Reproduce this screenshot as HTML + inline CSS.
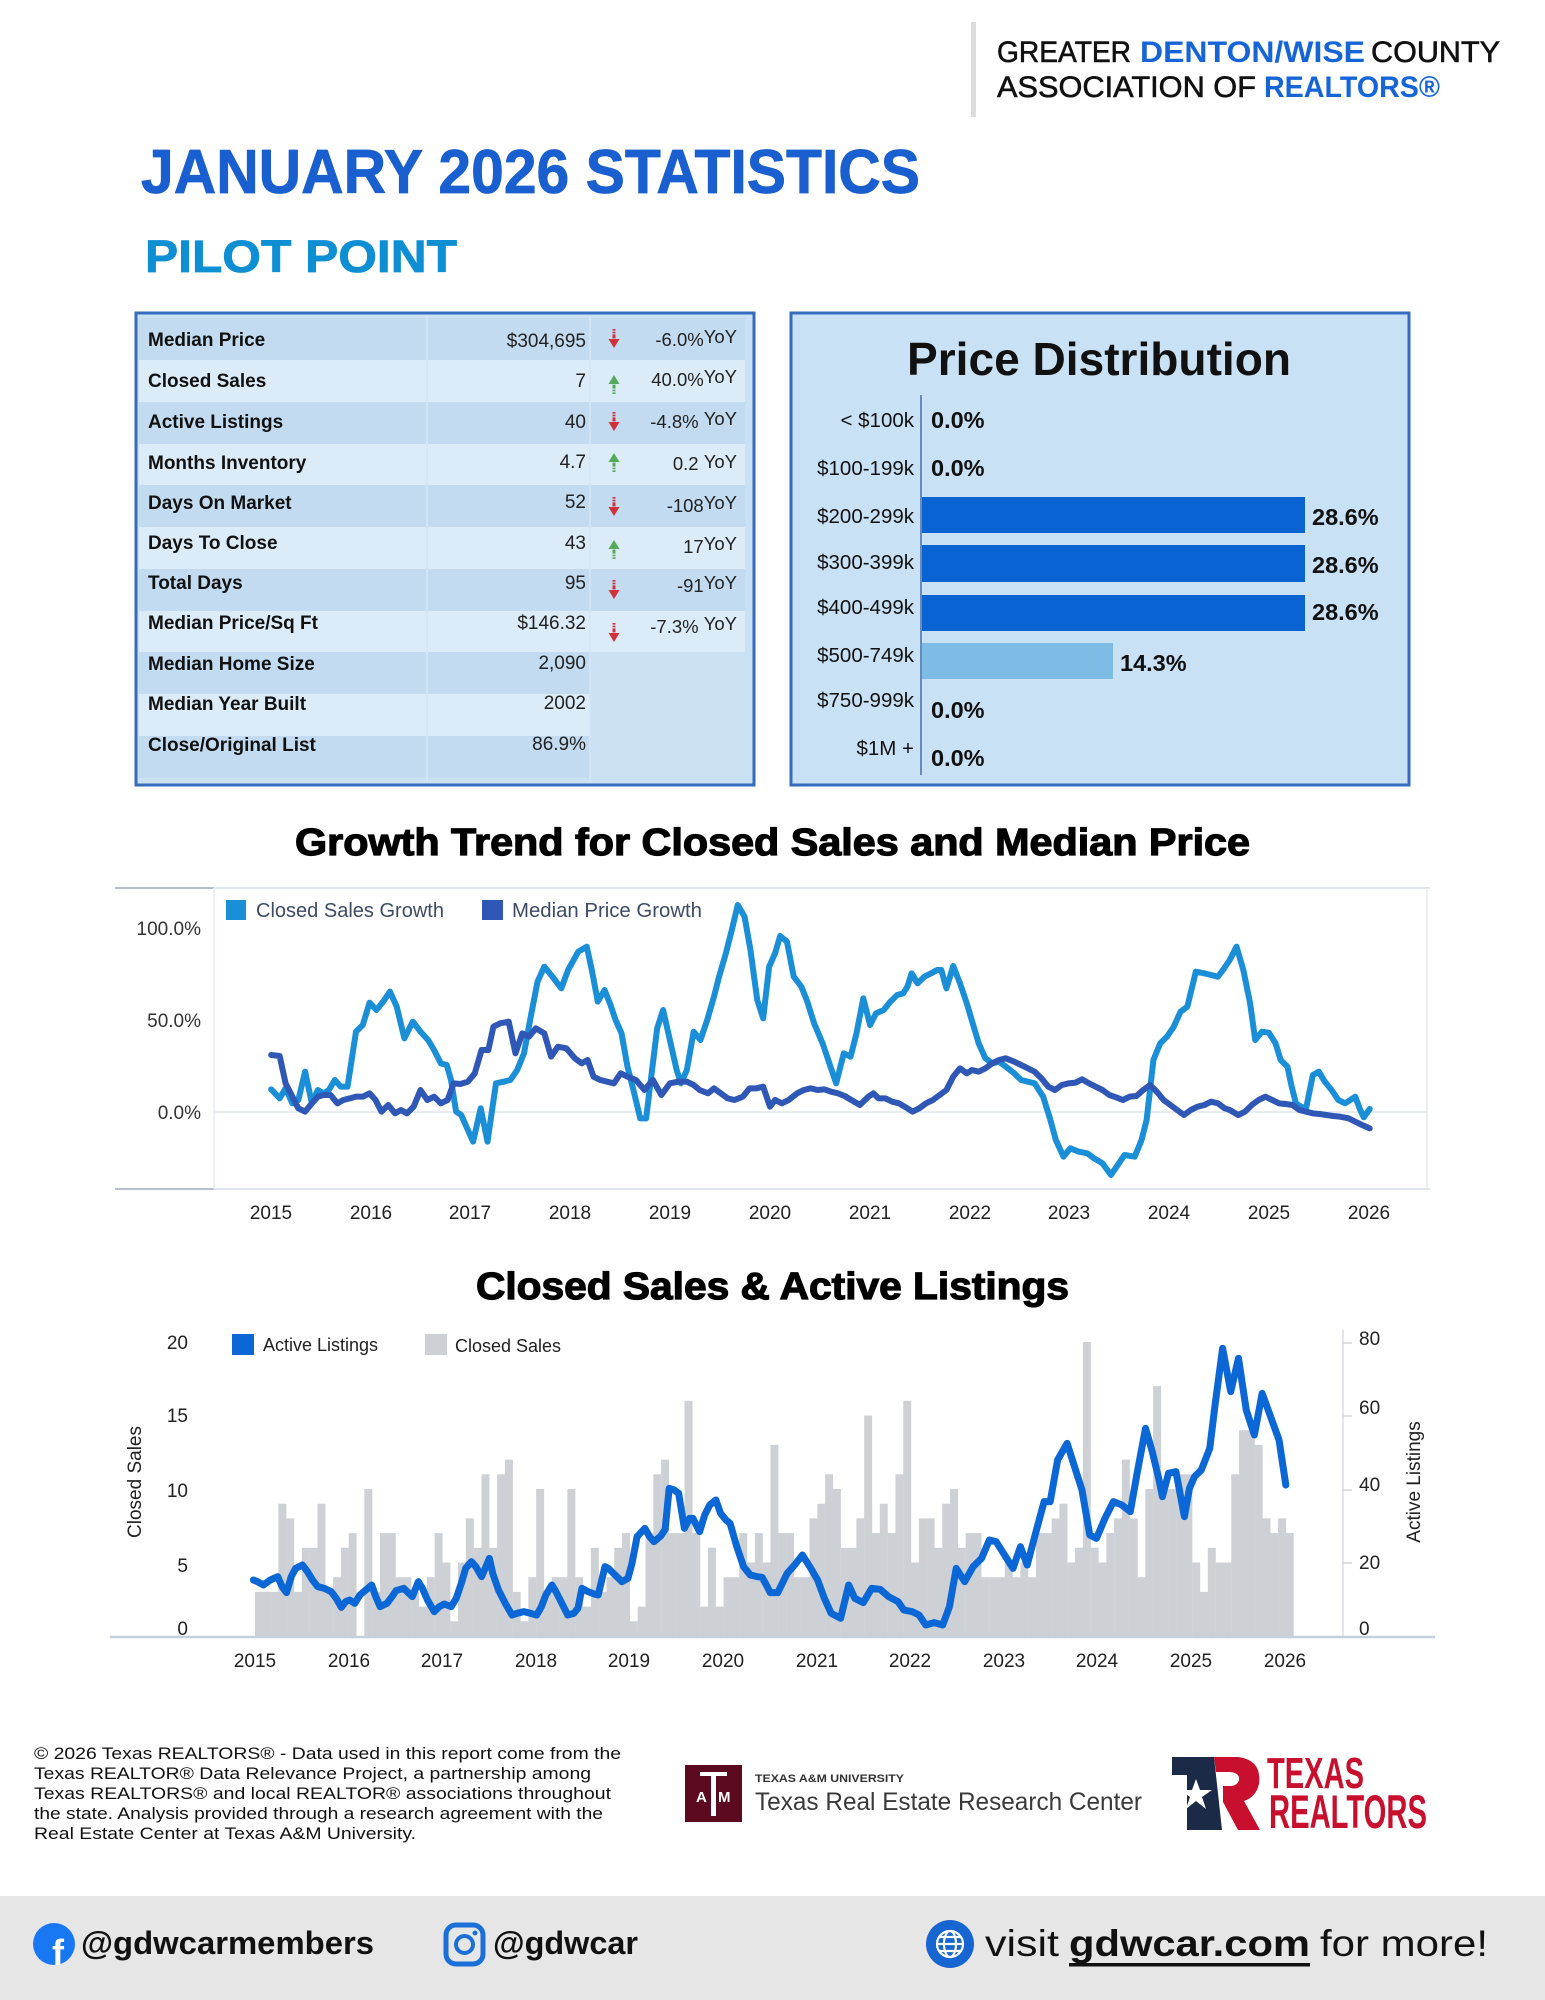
<!DOCTYPE html>
<html><head><meta charset="utf-8"><style>
html,body{margin:0;padding:0;background:#fff;}
svg{display:block;}
text{font-family:"Liberation Sans",Arial,sans-serif;}
</style></head><body>
<svg width="1545" height="2000" viewBox="0 0 1545 2000" xmlns="http://www.w3.org/2000/svg">
<rect x="0" y="0" width="1545" height="2000" fill="#fff"/>

<!-- Header logo -->
<rect x="971" y="22" width="5" height="95" fill="#dcdcdc"/>
<text x="997" y="62" font-size="30" fill="#111" stroke="#111" stroke-width="0.6" textLength="134" lengthAdjust="spacingAndGlyphs">GREATER</text>
<text x="1140" y="62" font-size="30" font-weight="bold" fill="#1565d8" textLength="225" lengthAdjust="spacingAndGlyphs">DENTON/WISE</text>
<text x="1371" y="62" font-size="30" fill="#111" stroke="#111" stroke-width="0.6" textLength="129" lengthAdjust="spacingAndGlyphs">COUNTY</text>
<text x="997" y="97" font-size="30" fill="#111" stroke="#111" stroke-width="0.6" textLength="259" lengthAdjust="spacingAndGlyphs">ASSOCIATION OF</text>
<text x="1264" y="97" font-size="30" font-weight="bold" fill="#1565d8" textLength="176" lengthAdjust="spacingAndGlyphs">REALTORS®</text>

<!-- Titles -->
<text x="141" y="193" font-size="62" font-weight="bold" fill="#1a5fcf" stroke="#1a5fcf" stroke-width="0.8" textLength="779" lengthAdjust="spacingAndGlyphs">JANUARY 2026 STATISTICS</text>
<text x="145" y="272" font-size="45" font-weight="bold" fill="#0e8fd4" stroke="#0e8fd4" stroke-width="0.8" textLength="312" lengthAdjust="spacingAndGlyphs">PILOT POINT</text>

<!-- Stats table panel -->
<rect x="136" y="313" width="618" height="472" fill="#cae0f3" stroke="#356cbf" stroke-width="3"/>
<g>
<rect x="139" y="318" width="606" height="42" fill="#c2dbf0"/>
<rect x="139" y="360" width="606" height="42" fill="#dbebf8"/>
<rect x="139" y="402" width="606" height="42" fill="#c2dbf0"/>
<rect x="139" y="444" width="606" height="41" fill="#dbebf8"/>
<rect x="139" y="485" width="606" height="42" fill="#c2dbf0"/>
<rect x="139" y="527" width="606" height="42" fill="#dbebf8"/>
<rect x="139" y="569" width="606" height="42" fill="#c2dbf0"/>
<rect x="139" y="611" width="606" height="41" fill="#dbebf8"/>
<rect x="139" y="652" width="451" height="42" fill="#c2dbf0"/>
<rect x="139" y="694" width="451" height="42" fill="#dbebf8"/>
<rect x="139" y="736" width="451" height="42" fill="#c2dbf0"/>
</g>
<rect x="426" y="316" width="2" height="466" fill="#d3e6f6" opacity="0.8"/>
<rect x="589" y="316" width="2" height="466" fill="#d3e6f6" opacity="0.8"/>

<g font-size="19" font-weight="bold" fill="#111">
<text x="148" y="346">Median Price</text>
<text x="148" y="387">Closed Sales</text>
<text x="148" y="428">Active Listings</text>
<text x="148" y="469">Months Inventory</text>
<text x="148" y="509">Days On Market</text>
<text x="148" y="549">Days To Close</text>
<text x="148" y="589">Total Days</text>
<text x="148" y="629">Median Price/Sq Ft</text>
<text x="148" y="670">Median Home Size</text>
<text x="148" y="710">Median Year Built</text>
<text x="148" y="751">Close/Original List</text>
</g>
<g font-size="19" fill="#222" text-anchor="end">
<text x="586" y="347">$304,695</text>
<text x="586" y="387">7</text>
<text x="586" y="428">40</text>
<text x="586" y="468">4.7</text>
<text x="586" y="508">52</text>
<text x="586" y="549">43</text>
<text x="586" y="589">95</text>
<text x="586" y="629">$146.32</text>
<text x="586" y="669">2,090</text>
<text x="586" y="709">2002</text>
<text x="586" y="750">86.9%</text>
</g>
<g font-size="18.5" fill="#222" text-anchor="end">
<text x="737" y="346">-6.0%<tspan dy="-3">YoY</tspan></text>
<text x="737" y="386">40.0%<tspan dy="-3">YoY</tspan></text>
<text x="737" y="428">-4.8%&#160;<tspan dy="-3">YoY</tspan></text>
<text x="737" y="470">0.2&#160;<tspan dy="-2">YoY</tspan></text>
<text x="737" y="512">-108<tspan dy="-3">YoY</tspan></text>
<text x="737" y="553">17<tspan dy="-3">YoY</tspan></text>
<text x="737" y="592">-91<tspan dy="-3">YoY</tspan></text>
<text x="737" y="633">-7.3%&#160;<tspan dy="-3">YoY</tspan></text>
</g>
<!-- arrows -->
<g fill="#d2303b">
<g transform="translate(614 339)"><rect x="-1.5" y="-10" width="3" height="1.6"/><rect x="-1.5" y="-7.3" width="3" height="1.6"/><rect x="-1.5" y="-4.6" width="3" height="4"/><polygon points="-5.5,0 5.5,0 0,9"/></g>
<g transform="translate(614 422)"><rect x="-1.5" y="-10" width="3" height="1.6"/><rect x="-1.5" y="-7.3" width="3" height="1.6"/><rect x="-1.5" y="-4.6" width="3" height="4"/><polygon points="-5.5,0 5.5,0 0,9"/></g>
<g transform="translate(614 507)"><rect x="-1.5" y="-10" width="3" height="1.6"/><rect x="-1.5" y="-7.3" width="3" height="1.6"/><rect x="-1.5" y="-4.6" width="3" height="4"/><polygon points="-5.5,0 5.5,0 0,9"/></g>
<g transform="translate(614 590)"><rect x="-1.5" y="-10" width="3" height="1.6"/><rect x="-1.5" y="-7.3" width="3" height="1.6"/><rect x="-1.5" y="-4.6" width="3" height="4"/><polygon points="-5.5,0 5.5,0 0,9"/></g>
<g transform="translate(614 633)"><rect x="-1.5" y="-10" width="3" height="1.6"/><rect x="-1.5" y="-7.3" width="3" height="1.6"/><rect x="-1.5" y="-4.6" width="3" height="4"/><polygon points="-5.5,0 5.5,0 0,9"/></g>
</g>
<g fill="#55a95b">
<g transform="translate(614 384)"><rect x="-1.5" y="8.4" width="3" height="1.6"/><rect x="-1.5" y="5.7" width="3" height="1.6"/><rect x="-1.5" y="0.6" width="3" height="4"/><polygon points="-5.5,0 5.5,0 0,-9"/></g>
<g transform="translate(614 462)"><rect x="-1.5" y="8.4" width="3" height="1.6"/><rect x="-1.5" y="5.7" width="3" height="1.6"/><rect x="-1.5" y="0.6" width="3" height="4"/><polygon points="-5.5,0 5.5,0 0,-9"/></g>
<g transform="translate(614 549)"><rect x="-1.5" y="8.4" width="3" height="1.6"/><rect x="-1.5" y="5.7" width="3" height="1.6"/><rect x="-1.5" y="0.6" width="3" height="4"/><polygon points="-5.5,0 5.5,0 0,-9"/></g>
</g>

<!-- Price distribution panel -->
<rect x="791" y="313" width="618" height="472" fill="#c9e1f4" stroke="#356cbf" stroke-width="3"/>
<text x="907" y="375" font-size="46" font-weight="bold" fill="#111" textLength="384" lengthAdjust="spacingAndGlyphs">Price Distribution</text>
<line x1="921" y1="395" x2="921" y2="775" stroke="#4a6ea8" stroke-width="1.5"/>
<rect x="922" y="497" width="383" height="36" fill="#0a63d3"/>
<rect x="922" y="545" width="383" height="37" fill="#0a63d3"/>
<rect x="922" y="595" width="383" height="36" fill="#0a63d3"/>
<rect x="922" y="643" width="191" height="36" fill="#7dbce4"/>
<g font-size="20.5" fill="#111" text-anchor="end">
<text x="914" y="427">&lt; $100k</text>
<text x="914" y="475">$100-199k</text>
<text x="914" y="523">$200-299k</text>
<text x="914" y="569">$300-399k</text>
<text x="914" y="614">$400-499k</text>
<text x="914" y="662">$500-749k</text>
<text x="914" y="707">$750-999k</text>
<text x="914" y="755">$1M +</text>
</g>
<g font-size="23.5" font-weight="bold" fill="#111">
<text x="931" y="428">0.0%</text>
<text x="931" y="476">0.0%</text>
<text x="1312" y="525">28.6%</text>
<text x="1312" y="573">28.6%</text>
<text x="1312" y="620">28.6%</text>
<text x="1120" y="671">14.3%</text>
<text x="931" y="718">0.0%</text>
<text x="931" y="766">0.0%</text>
</g>

<!-- Growth chart -->
<text x="295" y="855" font-size="38" font-weight="bold" fill="#000" stroke="#000" stroke-width="1.2" textLength="955" lengthAdjust="spacingAndGlyphs">Growth Trend for Closed Sales and Median Price</text>
<line x1="115" y1="888" x2="1430" y2="888" stroke="#e1e6ed" stroke-width="2"/>
<line x1="115" y1="888" x2="214" y2="888" stroke="#b8bfc9" stroke-width="2"/>
<line x1="115" y1="1189" x2="1430" y2="1189" stroke="#dfe4ea" stroke-width="2"/>
<line x1="115" y1="1189" x2="214" y2="1189" stroke="#b8bfc9" stroke-width="2"/>
<line x1="214" y1="888" x2="214" y2="1189" stroke="#e6eaf0" stroke-width="1.5"/>
<line x1="1427" y1="888" x2="1427" y2="1189" stroke="#e6eaf0" stroke-width="1.5"/>
<line x1="214" y1="1112" x2="1427" y2="1112" stroke="#e8edf2" stroke-width="2"/>
<g font-size="19" fill="#333" text-anchor="end">
<text x="201" y="935">100.0%</text>
<text x="201" y="1027">50.0%</text>
<text x="201" y="1119">0.0%</text>
</g>
<g font-size="19" fill="#222" text-anchor="middle">
<text x="271" y="1219">2015</text>
<text x="371" y="1219">2016</text>
<text x="470" y="1219">2017</text>
<text x="570" y="1219">2018</text>
<text x="670" y="1219">2019</text>
<text x="770" y="1219">2020</text>
<text x="870" y="1219">2021</text>
<text x="970" y="1219">2022</text>
<text x="1069" y="1219">2023</text>
<text x="1169" y="1219">2024</text>
<text x="1269" y="1219">2025</text>
<text x="1369" y="1219">2026</text>
</g>
<rect x="226" y="900" width="20" height="20" fill="#1a8fd8"/>
<text x="256" y="917" font-size="20" fill="#3d4b66" textLength="188" lengthAdjust="spacingAndGlyphs">Closed Sales Growth</text>
<rect x="482" y="900" width="21" height="20" fill="#2f57b6"/>
<text x="512" y="917" font-size="20" fill="#3d4b66" textLength="190" lengthAdjust="spacingAndGlyphs">Median Price Growth</text>
<g transform="translate(110 810) scale(0.8483 0.33333)" fill="none" stroke-linejoin="round" stroke-linecap="round">
<polyline vector-effect="non-scaling-stroke" stroke="#1a8fd8" stroke-width="6" points="190,838 200,865 207,835 215,880 222,870 230,785 238,880 245,840 252,850 258,840 265,810 272,830 280,830 290,665 298,645 306,578 314,600 322,575 330,545 338,590 347,685 357,635 366,665 375,690 382,720 390,760 397,765 402,810 408,905 414,915 428,995 437,895 445,995 455,820 464,815 472,810 480,780 488,730 496,620 504,515 512,470 520,495 532,535 540,480 552,425 562,410 568,480 575,575 583,540 590,585 596,630 603,670 610,770 618,850 625,925 632,925 639,780 645,655 652,600 660,690 668,780 673,820 680,780 688,665 696,690 704,630 712,560 718,500 726,430 733,360 740,285 748,320 755,420 763,570 770,625 777,470 784,430 790,378 798,395 806,500 815,530 822,575 830,640 840,700 848,760 856,820 865,730 873,740 880,670 888,565 896,645 903,610 912,600 920,575 928,555 935,550 940,530 945,490 952,520 960,500 968,490 975,480 980,480 986,535 994,468 1002,520 1010,580 1017,640 1024,700 1032,745 1040,760 1048,755 1056,770 1066,790 1074,810 1082,815 1090,820 1100,860 1108,925 1115,990 1124,1040 1132,1015 1142,1025 1152,1030 1160,1045 1170,1060 1180,1095 1188,1065 1196,1035 1208,1040 1216,990 1222,930 1230,750 1238,700 1246,680 1254,650 1262,605 1270,590 1280,485 1290,490 1298,495 1306,500 1312,480 1320,450 1328,410 1336,480 1344,580 1350,690 1358,665 1366,668 1374,700 1380,750 1388,770 1393,830 1398,880 1404,890 1410,895 1418,795 1425,785 1432,815 1440,840 1448,870 1456,880 1462,870 1468,860 1473,895 1478,922 1485,897"/>
<polyline vector-effect="non-scaling-stroke" stroke="#2f57b6" stroke-width="6" points="190,735 200,738 207,820 215,860 222,895 230,905 238,880 245,860 252,855 260,855 268,880 275,870 283,865 290,860 298,860 306,850 313,870 320,905 328,885 336,910 343,900 350,910 358,890 366,840 374,870 382,860 390,880 398,870 405,820 413,822 422,815 430,790 438,720 446,720 452,650 460,640 470,635 478,730 486,670 494,680 502,655 512,670 520,740 528,710 538,715 548,745 556,760 563,750 570,800 578,810 586,815 594,820 602,790 610,800 620,810 630,840 640,810 650,855 660,820 670,815 680,815 688,825 695,840 705,850 712,835 720,850 728,865 736,870 746,860 754,835 762,835 770,830 778,890 784,870 792,880 800,870 810,850 818,840 826,835 834,840 842,838 850,845 858,850 866,858 874,870 884,885 894,860 900,850 906,865 914,865 922,875 930,880 940,895 946,905 954,895 962,880 970,870 978,855 986,840 994,800 1002,775 1010,790 1016,780 1024,785 1032,775 1040,760 1048,750 1056,745 1066,755 1074,765 1082,775 1090,785 1098,805 1106,830 1114,840 1122,825 1130,820 1138,818 1146,808 1154,820 1162,830 1170,840 1178,855 1186,862 1194,870 1202,860 1210,858 1218,840 1226,825 1234,845 1242,870 1250,885 1258,900 1266,915 1274,900 1282,890 1290,885 1298,875 1306,880 1314,895 1320,900 1330,915 1338,905 1346,885 1354,870 1362,860 1370,870 1378,880 1386,882 1394,885 1402,900 1410,905 1418,910 1426,912 1434,915 1442,918 1450,920 1460,925 1468,935 1476,945 1485,955"/>
</g>

<!-- Closed Sales & Active Listings -->
<text x="476" y="1299" font-size="38" font-weight="bold" fill="#000" stroke="#000" stroke-width="1.2" textLength="593" lengthAdjust="spacingAndGlyphs">Closed Sales &amp; Active Listings</text>
<line x1="1343" y1="1330" x2="1343" y2="1637" stroke="#d8dde3" stroke-width="1.5"/>
<g stroke="#d0d6dd" stroke-width="1.5">
<line x1="1343" y1="1343" x2="1352" y2="1343"/>
<line x1="1343" y1="1416" x2="1352" y2="1416"/>
<line x1="1343" y1="1490" x2="1352" y2="1490"/>
<line x1="1343" y1="1563" x2="1352" y2="1563"/>
</g>
<g transform="translate(255 1636) scale(7.81 -14.7)" fill="#cdd1d6">
<rect x="0" y="0" width="1.02" height="3"/><rect x="1" y="0" width="1.02" height="3"/><rect x="2" y="0" width="1.02" height="3"/><rect x="3" y="0" width="1.02" height="9"/><rect x="4" y="0" width="1.02" height="8"/><rect x="5" y="0" width="1.02" height="3"/><rect x="6" y="0" width="1.02" height="6"/><rect x="7" y="0" width="1.02" height="6"/><rect x="8" y="0" width="1.02" height="9"/><rect x="9" y="0" width="1.02" height="3"/>
<rect x="10" y="0" width="1.02" height="4"/><rect x="11" y="0" width="1.02" height="6"/><rect x="12" y="0" width="1.0" height="7"/><rect x="14" y="0" width="1.02" height="10"/><rect x="15" y="0" width="1.02" height="3"/><rect x="16" y="0" width="1.02" height="7"/><rect x="17" y="0" width="1.02" height="7"/><rect x="18" y="0" width="1.02" height="4"/><rect x="19" y="0" width="1.02" height="4"/>
<rect x="20" y="0" width="1.02" height="3"/><rect x="21" y="0" width="1.02" height="2"/><rect x="22" y="0" width="1.02" height="4"/><rect x="23" y="0" width="1.02" height="7"/><rect x="24" y="0" width="1.02" height="5"/><rect x="25" y="0" width="1.02" height="1"/><rect x="26" y="0" width="1.02" height="5"/><rect x="27" y="0" width="1.02" height="8"/><rect x="28" y="0" width="1.02" height="6"/><rect x="29" y="0" width="1.02" height="11"/>
<rect x="30" y="0" width="1.02" height="6"/><rect x="31" y="0" width="1.02" height="11"/><rect x="32" y="0" width="1.02" height="12"/><rect x="33" y="0" width="1.02" height="3"/><rect x="34" y="0" width="1.02" height="1"/><rect x="35" y="0" width="1.02" height="4"/><rect x="36" y="0" width="1.02" height="10"/><rect x="37" y="0" width="1.02" height="3"/><rect x="38" y="0" width="1.02" height="4"/><rect x="39" y="0" width="1.02" height="4"/>
<rect x="40" y="0" width="1.02" height="10"/><rect x="41" y="0" width="1.02" height="4"/><rect x="42" y="0" width="1.02" height="2"/><rect x="43" y="0" width="1.02" height="6"/><rect x="44" y="0" width="1.02" height="3"/><rect x="45" y="0" width="1.02" height="4"/><rect x="46" y="0" width="1.02" height="6"/><rect x="47" y="0" width="1.02" height="7"/><rect x="48" y="0" width="1.02" height="1"/><rect x="49" y="0" width="1.02" height="2"/>
<rect x="50" y="0" width="1.02" height="7"/><rect x="51" y="0" width="1.02" height="11"/><rect x="52" y="0" width="1.02" height="12"/><rect x="53" y="0" width="1.02" height="7"/><rect x="54" y="0" width="1.02" height="7"/><rect x="55" y="0" width="1.02" height="16"/><rect x="56" y="0" width="1.02" height="7"/><rect x="57" y="0" width="1.02" height="2"/><rect x="58" y="0" width="1.02" height="6"/><rect x="59" y="0" width="1.02" height="2"/>
<rect x="60" y="0" width="1.02" height="4"/><rect x="61" y="0" width="1.02" height="4"/><rect x="62" y="0" width="1.02" height="7"/><rect x="63" y="0" width="1.02" height="5"/><rect x="64" y="0" width="1.02" height="7"/><rect x="65" y="0" width="1.02" height="5"/><rect x="66" y="0" width="1.02" height="13"/><rect x="67" y="0" width="1.02" height="7"/><rect x="68" y="0" width="1.02" height="7"/><rect x="69" y="0" width="1.02" height="4"/>
<rect x="70" y="0" width="1.02" height="4"/><rect x="71" y="0" width="1.02" height="8"/><rect x="72" y="0" width="1.02" height="9"/><rect x="73" y="0" width="1.02" height="11"/><rect x="74" y="0" width="1.02" height="10"/><rect x="75" y="0" width="1.02" height="6"/><rect x="76" y="0" width="1.02" height="6"/><rect x="77" y="0" width="1.02" height="8"/><rect x="78" y="0" width="1.02" height="15"/><rect x="79" y="0" width="1.02" height="7"/>
<rect x="80" y="0" width="1.02" height="9"/><rect x="81" y="0" width="1.02" height="7"/><rect x="82" y="0" width="1.02" height="11"/><rect x="83" y="0" width="1.02" height="16"/><rect x="84" y="0" width="1.02" height="5"/><rect x="85" y="0" width="1.02" height="8"/><rect x="86" y="0" width="1.02" height="8"/><rect x="87" y="0" width="1.02" height="6"/><rect x="88" y="0" width="1.02" height="9"/><rect x="89" y="0" width="1.02" height="10"/>
<rect x="90" y="0" width="1.02" height="6"/><rect x="91" y="0" width="1.02" height="7"/><rect x="92" y="0" width="1.02" height="7"/><rect x="93" y="0" width="1.02" height="4"/><rect x="94" y="0" width="1.02" height="4"/><rect x="95" y="0" width="1.02" height="4"/><rect x="96" y="0" width="1.02" height="5"/><rect x="97" y="0" width="1.02" height="4"/><rect x="98" y="0" width="1.02" height="5"/><rect x="99" y="0" width="1.02" height="4"/>
<rect x="100" y="0" width="1.02" height="7"/><rect x="101" y="0" width="1.02" height="7"/><rect x="102" y="0" width="1.02" height="8"/><rect x="103" y="0" width="1.02" height="9"/><rect x="104" y="0" width="1.02" height="5"/><rect x="105" y="0" width="1.02" height="6"/><rect x="106" y="0" width="1.02" height="20"/><rect x="107" y="0" width="1.02" height="6"/><rect x="108" y="0" width="1.02" height="5"/><rect x="109" y="0" width="1.02" height="7"/>
<rect x="110" y="0" width="1.02" height="8"/><rect x="111" y="0" width="1.02" height="12"/><rect x="112" y="0" width="1.02" height="8"/><rect x="113" y="0" width="1.02" height="4"/><rect x="114" y="0" width="1.02" height="10"/><rect x="115" y="0" width="1.02" height="17"/><rect x="116" y="0" width="1.02" height="10"/><rect x="117" y="0" width="1.02" height="10"/><rect x="118" y="0" width="1.02" height="11"/><rect x="119" y="0" width="1.02" height="11"/>
<rect x="120" y="0" width="1.02" height="5"/><rect x="121" y="0" width="1.02" height="3"/><rect x="122" y="0" width="1.02" height="6"/><rect x="123" y="0" width="1.02" height="5"/><rect x="124" y="0" width="1.02" height="5"/><rect x="125" y="0" width="1.02" height="11"/><rect x="126" y="0" width="1.02" height="14"/><rect x="127" y="0" width="1.02" height="14"/><rect x="128" y="0" width="1.02" height="13"/><rect x="129" y="0" width="1.02" height="8"/>
<rect x="130" y="0" width="1.02" height="7"/><rect x="131" y="0" width="1.02" height="8"/><rect x="132" y="0" width="1.0" height="7"/>
</g>
<line x1="110" y1="1637" x2="1435" y2="1637" stroke="#c6cfda" stroke-width="2.5"/>
<g transform="translate(250 1320) scale(0.33806 0.33333)" fill="none" stroke-linejoin="round" stroke-linecap="round">
<polyline vector-effect="non-scaling-stroke" stroke="#0b67d6" stroke-width="7" points="10,780 22,785 40,795 60,780 82,770 95,800 108,818 122,770 135,745 155,735 170,755 185,780 200,800 220,805 240,815 255,835 270,862 283,845 295,840 310,850 325,825 345,808 360,795 372,830 385,860 405,850 420,830 432,812 455,805 470,820 480,830 498,785 510,805 525,840 545,875 560,860 575,852 595,860 610,835 625,790 638,745 655,725 668,740 685,770 700,735 708,715 718,760 735,810 755,850 775,885 790,880 810,875 830,880 848,885 862,860 875,825 893,795 905,815 920,845 940,885 958,880 970,865 982,805 1000,815 1018,822 1030,825 1050,740 1060,745 1080,765 1100,785 1118,775 1130,730 1145,650 1168,625 1182,650 1195,665 1215,648 1228,628 1240,505 1255,510 1268,520 1285,625 1300,595 1310,595 1330,635 1345,585 1360,555 1378,540 1392,580 1408,600 1420,610 1440,680 1460,740 1480,765 1500,770 1515,772 1530,800 1539,818 1561,818 1589,760 1611,735 1634,705 1659,745 1679,780 1699,835 1719,880 1747,895 1771,795 1789,835 1814,848 1839,805 1864,808 1889,830 1917,845 1934,870 1959,875 1979,885 1999,915 2024,908 2049,915 2069,860 2089,745 2114,785 2139,740 2164,715 2187,660 2207,665 2229,700 2257,745 2279,680 2299,735 2329,620 2349,545 2367,545 2389,420 2417,370 2439,440 2461,510 2484,645 2504,655 2529,595 2554,545 2579,555 2604,575 2624,460 2649,325 2669,395 2689,480 2699,530 2717,460 2739,455 2764,590 2779,505 2794,470 2814,450 2839,385 2854,260 2877,85 2901,215 2924,115 2947,270 2971,345 2994,220 3019,290 3044,360 3064,495"/>
</g>
<g font-size="19" fill="#222" text-anchor="end">
<text x="188" y="1349">20</text>
<text x="188" y="1422">15</text>
<text x="188" y="1497">10</text>
<text x="188" y="1572">5</text>
<text x="188" y="1635">0</text>
</g>
<g font-size="19" fill="#222">
<text x="1359" y="1345">80</text>
<text x="1359" y="1414">60</text>
<text x="1359" y="1491">40</text>
<text x="1359" y="1569">20</text>
<text x="1359" y="1635">0</text>
</g>
<text transform="translate(141 1482) rotate(-90)" font-size="19" fill="#222" text-anchor="middle">Closed Sales</text>
<text transform="translate(1420 1482) rotate(-90)" font-size="19" fill="#222" text-anchor="middle">Active Listings</text>
<g font-size="19" fill="#222" text-anchor="middle">
<text x="255" y="1667">2015</text>
<text x="349" y="1667">2016</text>
<text x="442" y="1667">2017</text>
<text x="536" y="1667">2018</text>
<text x="629" y="1667">2019</text>
<text x="723" y="1667">2020</text>
<text x="817" y="1667">2021</text>
<text x="910" y="1667">2022</text>
<text x="1004" y="1667">2023</text>
<text x="1097" y="1667">2024</text>
<text x="1191" y="1667">2025</text>
<text x="1285" y="1667">2026</text>
</g>
<rect x="232" y="1334" width="22" height="21" fill="#0b67d6"/>
<text x="263" y="1351" font-size="18" fill="#222">Active Listings</text>
<rect x="425" y="1334" width="22" height="21" fill="#cdd1d6"/>
<text x="455" y="1352" font-size="18" fill="#222">Closed Sales</text>

<!-- Footer text -->
<g font-size="16.5" fill="#111">
<text x="34" y="1759" textLength="587" lengthAdjust="spacingAndGlyphs">© 2026 Texas REALTORS® - Data used in this report come from the</text>
<text x="34" y="1779" textLength="557" lengthAdjust="spacingAndGlyphs">Texas REALTOR® Data Relevance Project, a partnership among</text>
<text x="34" y="1799" textLength="577" lengthAdjust="spacingAndGlyphs">Texas REALTORS® and local REALTOR® associations throughout</text>
<text x="34" y="1819" textLength="569" lengthAdjust="spacingAndGlyphs">the state. Analysis provided through a research agreement with the</text>
<text x="34" y="1839" textLength="382" lengthAdjust="spacingAndGlyphs">Real Estate Center at Texas A&amp;M University.</text>
</g>

<!-- Texas A&M logo -->
<rect x="685" y="1765" width="57" height="57" fill="#5c0a1f"/>
<rect x="700" y="1772" width="27" height="4" fill="#fff"/>
<rect x="711" y="1772" width="5" height="44" fill="#fff"/>
<text x="696" y="1802" font-size="15" font-weight="bold" fill="#fff" font-family="Liberation Serif,serif">A</text>
<text x="718" y="1802" font-size="15" font-weight="bold" fill="#fff" font-family="Liberation Serif,serif">M</text>
<text x="755" y="1782" font-size="11" font-weight="bold" fill="#333" textLength="149" lengthAdjust="spacingAndGlyphs">TEXAS A&amp;M UNIVERSITY</text>
<text x="755" y="1810" font-size="25" fill="#3a3a3a" textLength="387" lengthAdjust="spacingAndGlyphs">Texas Real Estate Research Center</text>

<!-- Texas Realtors logo -->
<polygon points="1172,1757 1214,1757 1222,1830 1187,1830 1187,1775 1172,1775" fill="#1b2a47"/>
<polygon points="1196,1779 1200,1790 1212,1790 1202,1797 1206,1809 1196,1801 1186,1809 1190,1797 1180,1790 1192,1790" fill="#fff"/>
<path d="M1214,1757 L1238,1757 Q1262,1760 1259,1784 Q1256,1797 1244,1801 L1260,1830 L1238,1830 L1223,1802 L1223,1786 L1232,1786 Q1240,1784 1239,1777 Q1237,1772 1229,1772 L1216,1772 Z" fill="#c8102e"/>
<text x="1267" y="1788" font-size="44" font-weight="bold" fill="#c8102e" textLength="97" lengthAdjust="spacingAndGlyphs">TEXAS</text>
<text x="1269" y="1828" font-size="47" font-weight="bold" fill="#c8102e" textLength="158" lengthAdjust="spacingAndGlyphs">REALTORS</text>

<!-- Footer band -->
<rect x="0" y="1896" width="1545" height="104" fill="#e6e6e6"/>
<circle cx="54" cy="1944" r="21" fill="#1877f2"/>
<text x="58" y="1965" font-size="36" font-weight="bold" fill="#fff" text-anchor="middle">f</text>
<text x="81" y="1954" font-size="32" font-weight="bold" fill="#111" textLength="293" lengthAdjust="spacingAndGlyphs">@gdwcarmembers</text>
<rect x="446" y="1925" width="37" height="39" rx="10" fill="none" stroke="#1a6fd8" stroke-width="5"/>
<circle cx="464.5" cy="1944.5" r="8.5" fill="none" stroke="#1a6fd8" stroke-width="4"/>
<circle cx="475" cy="1933" r="2.5" fill="#1a6fd8"/>
<text x="493" y="1954" font-size="32" font-weight="bold" fill="#111" textLength="145" lengthAdjust="spacingAndGlyphs">@gdwcar</text>
<circle cx="950" cy="1944" r="24" fill="#1665d0"/>
<g fill="none" stroke="#fff" stroke-width="2.2">
<circle cx="950" cy="1944" r="13"/>
<ellipse cx="950" cy="1944" rx="6" ry="13"/>
<line x1="937" y1="1944" x2="963" y2="1944"/>
<line x1="939" y1="1937" x2="961" y2="1937"/>
<line x1="939" y1="1951" x2="961" y2="1951"/>
</g>
<text x="985" y="1956" font-size="37" fill="#111" textLength="74" lengthAdjust="spacingAndGlyphs">visit</text>
<text x="1069" y="1956" font-size="37" font-weight="bold" fill="#111" textLength="241" lengthAdjust="spacingAndGlyphs">gdwcar.com</text>
<rect x="1069" y="1963" width="241" height="3.5" fill="#111"/>
<text x="1320" y="1956" font-size="37" fill="#111" textLength="168" lengthAdjust="spacingAndGlyphs">for more!</text>
</svg>
</body></html>
